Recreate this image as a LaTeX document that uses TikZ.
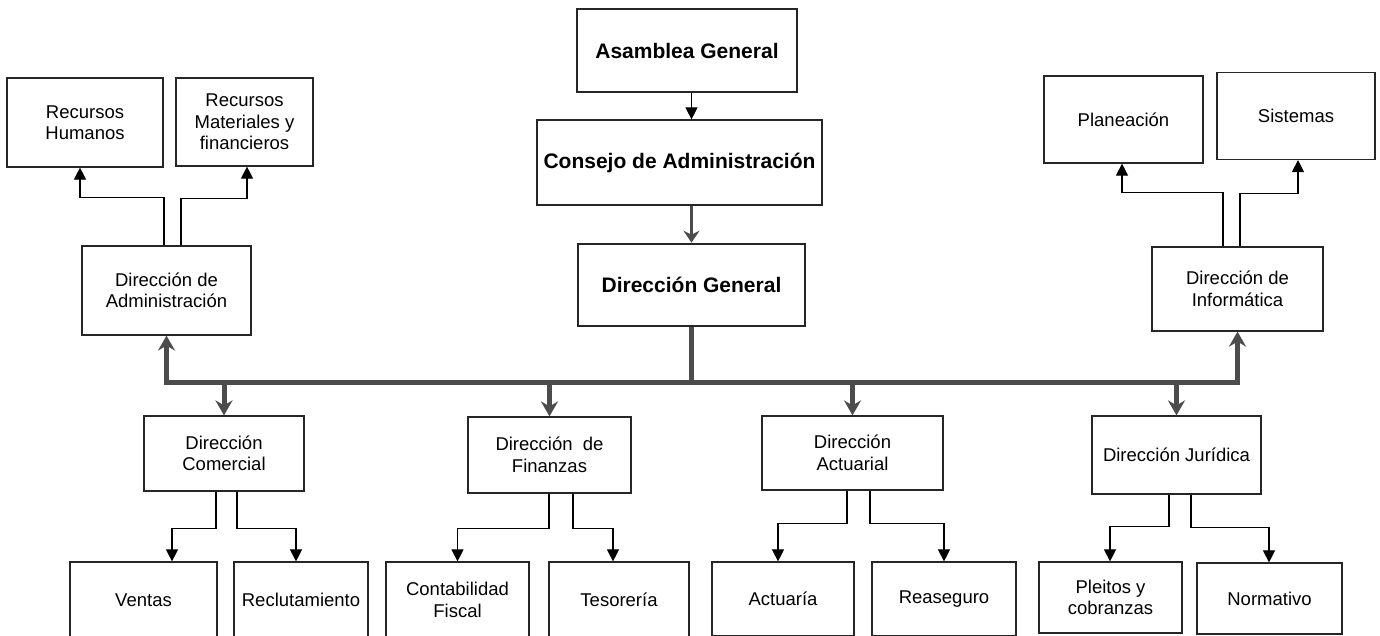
\documentclass[tikz,border=0pt]{standalone}
\usepackage{fontspec}
\setmainfont{Liberation Sans}
\usetikzlibrary{arrows.meta,calc}
\tikzset{
  box/.style={draw=black!85, line width=1.2pt, rectangle, inner sep=0pt, align=center,
    font=\fontsize{18.5}{21.5}\selectfont},
  bbox/.style={box, font=\fontsize{21}{24}\selectfont\bfseries},
  conn/.style={draw=black, line width=1.1pt, -{Triangle[length=12pt,width=12pt]}},
  bus/.style={draw=black!70, line width=5pt},
  busarrow/.style={bus, -{Stealth[length=15pt,width=17pt,inset=5pt]}},
}
\newcommand\downsub[5]{\draw[conn] ($(#1.south)+(#2,0)$) |- ($(#3.north)+(#4,-#5)$) -- ($(#3.north)+(#4,0)$);}
\newcommand\upsub[5]{\draw[conn] ($(#1.north)+(#2,0)$) |- ($(#3.south)+(#4,#5)$) -- ($(#3.south)+(#4,0)$);}
\begin{document}
\begin{tikzpicture}[x=1pt,y=-1pt]
\useasboundingbox (0,0) rectangle (1380,636);
\clip (0,0) rectangle (1380,636);
\fill[white] (0,0) rectangle (1380,636);
% top chain
\node[bbox, minimum width=220pt, minimum height=83pt] (AG) at (687,50.5) {Asamblea General};
\node[bbox, minimum width=285pt, minimum height=85pt] (CA) at (679.5,162.5) {Consejo de Administración};
\node[bbox, line width=2.6pt, minimum width=227pt, minimum height=82pt] (DG) at (691.5,285) {Dirección General};
% left upper
\node[box, minimum width=156pt, minimum height=89pt] (RH) at (85,122.5) {Recursos\\Humanos};
\node[box, minimum width=137pt, minimum height=88pt] (RM) at (244.5,122) {Recursos\\Materiales y\\financieros};
\node[box, minimum width=169pt, minimum height=89pt] (DA) at (166.5,290.5) {Dirección de\\Administración};
% right upper
\node[box, minimum width=159pt, minimum height=87pt] (PL) at (1123.5,119.5) {Planeación};
\node[box, minimum width=158pt, minimum height=87pt] (SI) at (1296,116) {Sistemas};
\node[box, minimum width=171pt, minimum height=84pt] (DI) at (1237.5,289) {Dirección de\\Informática};
% middle row
\node[box, minimum width=160pt, minimum height=75pt] (DC) at (224,453.5) {Dirección\\Comercial};
\node[box, minimum width=163pt, minimum height=76pt] (DF) at (549.5,455) {Dirección\ \ de\\Finanzas};
\node[box, minimum width=181pt, minimum height=74pt] (DX) at (852.5,453) {Dirección\\Actuarial};
\node[box, minimum width=169pt, minimum height=78pt] (DJ) at (1176.5,455) {Dirección Jurídica};
% bottom row
\node[box, minimum width=147pt, minimum height=76pt] (VE) at (143.5,600) {Ventas};
\node[box, minimum width=134pt, minimum height=76pt] (RE) at (301,600) {Reclutamiento};
\node[box, minimum width=143pt, minimum height=76pt] (CF) at (457.5,600) {Contabilidad\\Fiscal};
\node[box, minimum width=140pt, minimum height=76pt] (TE) at (619,600) {Tesorería};
\node[box, minimum width=142pt, minimum height=74pt] (AC) at (783,599) {Actuaría};
\node[box, minimum width=144pt, minimum height=74pt] (RS) at (944,599) {Reaseguro};
\node[box, minimum width=143pt, minimum height=71pt] (PC) at (1110.5,597.5) {Pleitos y\\cobranzas};
\node[box, minimum width=145pt, minimum height=71pt] (NO) at (1269.5,598.5) {Normativo};
% top arrows
\draw[conn] (AG.south -| DG.north) -- (CA.north -| DG.north);
\draw[bus, line width=3pt, -{Stealth[length=12pt,width=16pt,inset=4pt]}] (CA.south -| DG.north) -- (DG.north);
% bus
\coordinate (bus) at (691.5,382);
\draw[bus] (DG.south) -- (bus);
\draw[busarrow] (bus) -| (DA.south);
\draw[busarrow] (bus) -| (DI.south);
\foreach \n in {DC,DF,DX,DJ} {\draw[busarrow] (\n.north |- bus) -- (\n.north);}
% thin sub-connectors
\upsub{DA}{-2.5}{RH}{-5}{30}
\upsub{DA}{14.5}{RM}{2.5}{32}
\upsub{DI}{-14.5}{PL}{-1.5}{29}
\upsub{DI}{2.5}{SI}{2}{33}
\downsub{DC}{-8}{VE}{28.5}{33}
\downsub{DC}{13}{RE}{-5}{33}
\downsub{DF}{-0.5}{CF}{0}{33}
\downsub{DF}{23.5}{TE}{-6}{33}
\downsub{DX}{-5.5}{AC}{-5}{38}
\downsub{DX}{17.5}{RS}{0}{38}
\downsub{DJ}{-7.5}{PC}{-0.5}{35}
\downsub{DJ}{14.5}{NO}{-0.5}{35}
\end{tikzpicture}
\end{document}
